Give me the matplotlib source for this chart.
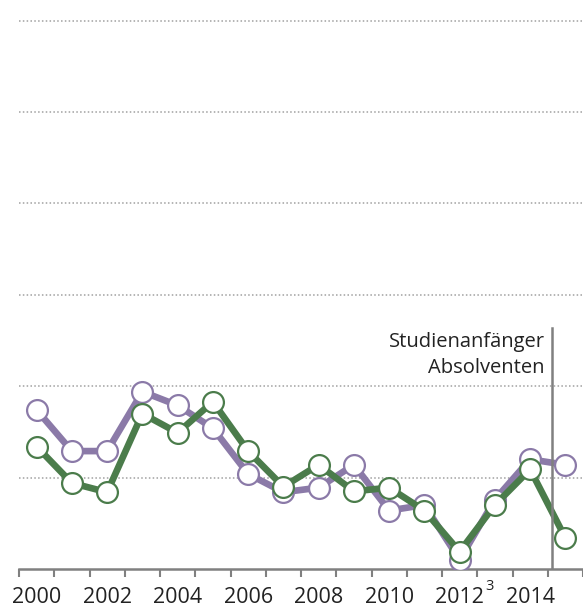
import numpy as np
import matplotlib.pyplot as plt
import matplotlib.transforms as mtransforms

plt.rcParams['font.family'] = ['Open Sans', 'DejaVu Sans']

years = list(range(2000, 2016))
anfaenger = [1.74, 1.29, 1.29, 1.94, 1.79, 1.54, 1.04, 0.84,
             0.89, 1.14, 0.64, 0.70, 0.10, 0.76, 1.20, 1.14]
absolventen = [1.34, 0.94, 0.84, 1.70, 1.49, 1.83, 1.29, 0.90,
               1.14, 0.85, 0.89, 0.64, 0.19, 0.70, 1.09, 0.34]
tick_labels = ['2000', '2002', '2004', '2006', '2008', '2010', '2012', '2014']
gridlines = [1, 2, 3, 4, 5, 6]

purple = '#8b7aa8'
green = '#4b7c4b'
gray = '#808080'

fig = plt.figure(figsize=(5.83, 6.07), dpi=100)
ax = fig.add_axes([19/583, 38/607, 564/583, 569/607])

x = np.arange(len(years))
ax.set_xlim(-0.5, len(years) - 0.5)
ax.set_ylim(0, 569/91.4)

for g in gridlines:
    ax.axhline(g, color='#a0a0a0', lw=1.1, ls=(0, (1, 1.5)), zorder=0)

ax.plot(x, anfaenger, color=purple, lw=4.8, marker='o', ms=15,
        mfc='white', mec=purple, mew=1.6, zorder=3)
ax.plot(x, absolventen, color=green, lw=4.8, marker='o', ms=15,
        mfc='white', mec=green, mew=1.6, zorder=4)

# vertical separator
sep = 14.61
ax.plot([sep, sep], [0, (569 - 328)/91.4], color=gray, lw=1.8, zorder=5)
ax.text(sep - 0.2, (569 - 347)/91.4, 'Studienanfänger', ha='right',
        va='baseline', fontsize=14.5, color='#222222')
ax.text(sep - 0.2, (569 - 373)/91.4, 'Absolventen', ha='right',
        va='baseline', fontsize=14.5, color='#222222')

for s in ['top', 'right', 'left']:
    ax.spines[s].set_visible(False)
ax.spines['bottom'].set_color(gray)
ax.spines['bottom'].set_linewidth(1.8)

ax.set_yticks([])
ax.set_xticks(np.arange(-0.5, len(years)), minor=False)
ax.set_xticklabels([])
ax.tick_params(axis='x', which='major', length=6, width=1.5, color=gray)
ax.set_xticks(x[::2], minor=True)
ax.set_xticklabels(tick_labels, minor=True)
ax.tick_params(axis='x', which='minor', length=0, pad=13, labelsize=15.5,
               labelcolor='#222222')

# footnote marker on 2012
trans = mtransforms.blended_transform_factory(ax.transData, fig.transFigure)
ax.text(12.86, 17/607, '3', fontsize=10.5, ha='center', va='baseline',
        color='#222222', transform=trans, clip_on=False)

fig.savefig('out.png', dpi=100)
